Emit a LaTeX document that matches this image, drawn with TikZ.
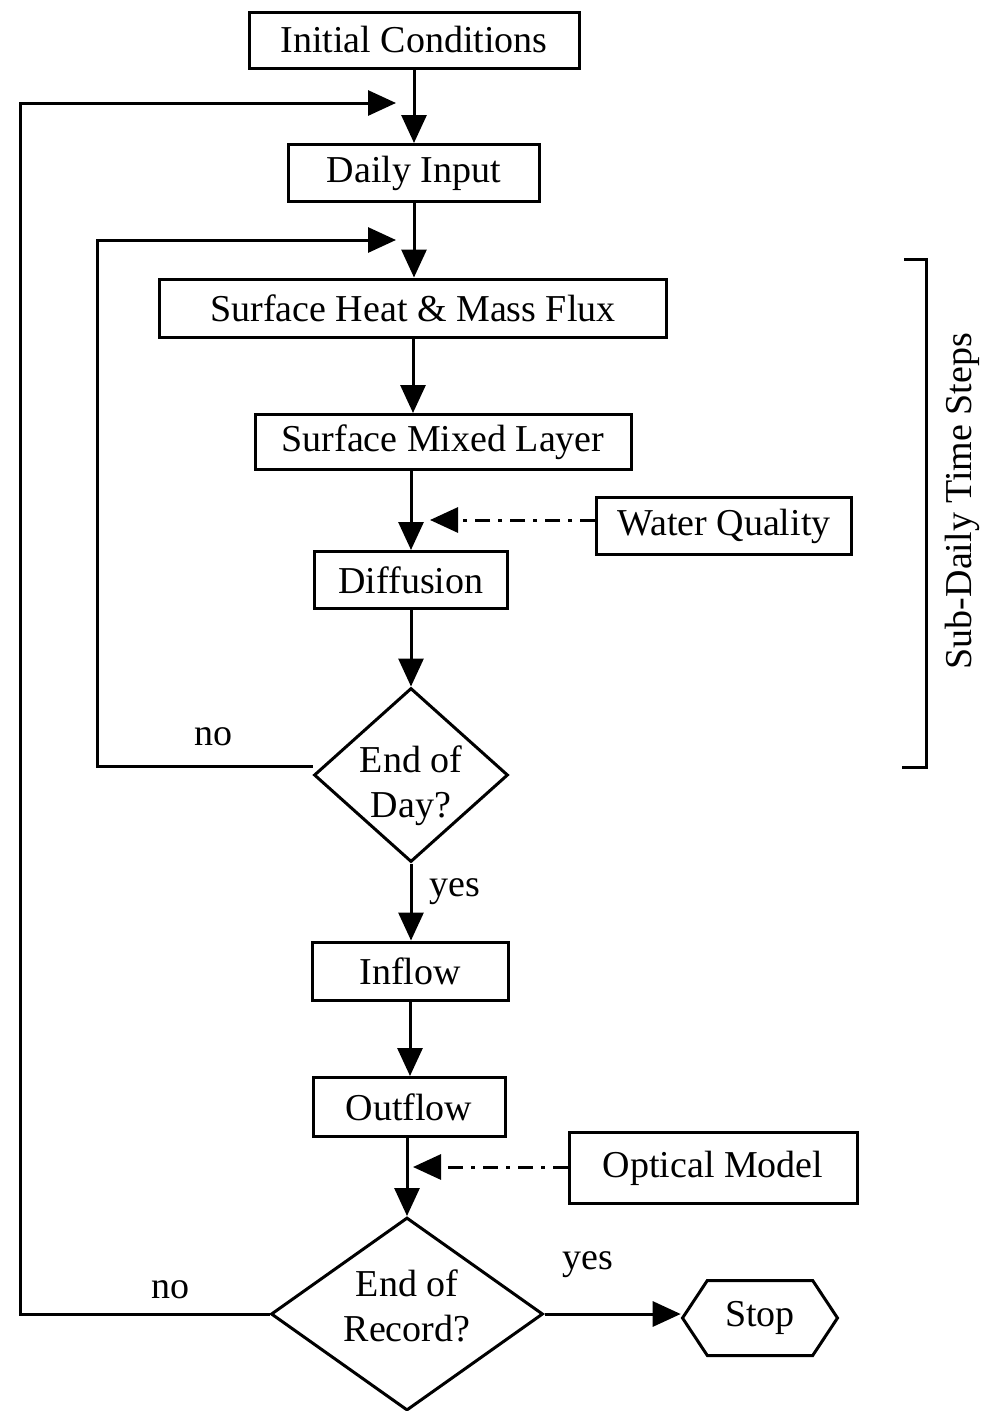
\documentclass[tikz,border=0pt]{standalone}
\usepackage{fontspec}
\setmainfont{Liberation Serif}
\usetikzlibrary{arrows.meta,shapes.geometric,shapes.symbols}
\begin{document}
\begin{tikzpicture}[x=1pt,y=-1pt,
  font=\fontsize{38}{45}\selectfont,
  box/.style={draw,line width=3pt,inner sep=0pt,minimum height=57pt},
  flow/.style={line width=3pt,-{Triangle[length=28pt,width=25pt]}},
  feed/.style={line width=3pt,dash pattern=on 15pt off 8pt on 4pt off 8pt,-{Triangle[length=28pt,width=25pt]}},
  dia/.style={draw,diamond,line width=3pt,inner sep=0pt},
  lbl/.style={inner sep=0pt},
  plain/.style={line width=3pt}]
\useasboundingbox (0,0) rectangle (989,1411);

% main chain
\node[box,minimum width=330pt,minimum height=56pt] (init) at (414,40) {Initial Conditions};
\node[box,minimum width=251pt] (daily) at (414,173) {Daily Input};
\node[box,minimum width=507pt,minimum height=58pt] (shf) at (413,308) {Surface Heat \& Mass Flux};
\node[box,minimum width=376pt,minimum height=55pt] (sml) at (443,442) {Surface Mixed Layer};
\node[box,minimum width=255pt] (wq) at (724,526) {Water Quality};
\node[box,minimum width=193pt] (diff) at (411,580) {Diffusion};
\node[dia,minimum width=194pt,minimum height=174pt] (eod) at (411,775) {};
\node[lbl,align=center] (eodt) at (411,786) {End of\\Day?};
\node[box,minimum width=196pt,minimum height=58pt] (inflow) at (410,971) {Inflow};
\node[box,minimum width=192pt,minimum height=59pt] (outflow) at (409,1107) {Outflow};
\node[box,minimum width=288pt,minimum height=71pt] (optical) at (713,1168) {Optical Model};
\node[dia,minimum width=272pt,minimum height=193pt] (eor) at (407,1314) {};
\node[lbl,align=center] (eort) at (407,1306) {End of\\Record?};
\node[draw,signal,signal to=west and east,signal pointer angle=113,line width=3pt,
      minimum width=155pt,minimum height=75pt,inner sep=0pt] (stop) at (760,1318) {Stop};

% labels
\node[lbl] (no1) at (213,737) {no};
\node[lbl] (no2) at (170,1290) {no};
\node[lbl] (yes1) at (455,892) {yes};
\node[lbl] (yes2) at (588,1265) {yes};
\node[lbl,rotate=90] (sub) at (962,501) {Sub-Daily Time Steps};

% junction coordinates
\coordinate (j1) at (396,103);
\coordinate (j2) at (396,240);
\coordinate (wqt) at (430,520);
\coordinate (opt) at (413,1167);
\coordinate (l1) at (97,766);
\coordinate (l2) at (20,1314);

% connectors
\draw[flow] (init.south) -- (init.south |- daily.north);
\draw[flow] (daily.south) -- (daily.south |- shf.north);
\draw[flow] (shf.south) -- (shf.south |- sml.north);
\draw[flow] (sml.south -| diff.north) -- (diff.north);
\draw[flow] (diff.south) -- (eod.north);
\draw[flow] (eod.south) -- (eod.south |- inflow.north);
\draw[flow] (inflow.south) -- (inflow.south |- outflow.north);
\draw[flow] (outflow.south -| eor.north) -- (eor.north);
\draw[flow] (eor.east) -- (eor.east -| stop.west);

\draw[feed] (wq.west |- wqt) -- (wqt);
\draw[feed] (optical.west |- opt) -- (opt);

% loops
\draw[flow] (eod.west |- l1) -- (l1) |- (j2);
\draw[flow] (eor.west) -- (l2) |- (j1);

% bracket
\coordinate (b1) at (904,259);
\coordinate (b2) at (926,259);
\coordinate (b3) at (926,767);
\coordinate (b4) at (902,767);
\draw[plain] (b1) -- (b2) -- (b3) -- (b4);
\end{tikzpicture}
\end{document}
